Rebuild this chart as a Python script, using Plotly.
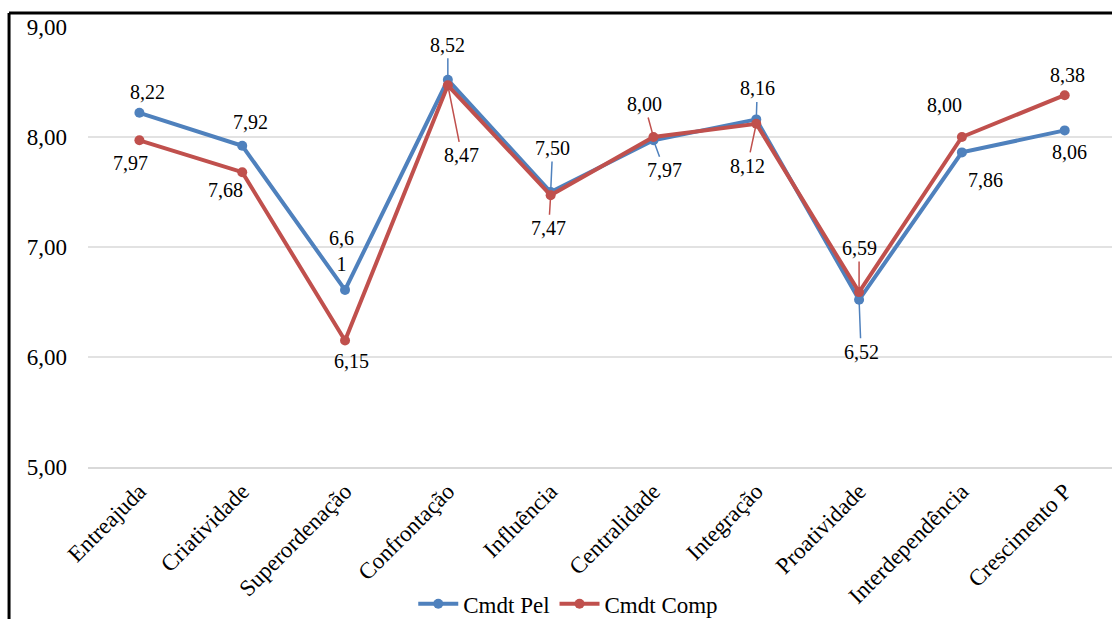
import plotly.graph_objects as go

# Dimensões avaliadas
categorias = ["Entreajuda", "Criatividade", "Superordenação", "Confrontação",
              "Influência", "Centralidade", "Integração", "Proatividade",
              "Interdependência", "Crescimento P"]

# Médias por grupo
cmdt_pel = [8.22, 7.92, 6.61, 8.52, 7.50, 7.97, 8.16, 6.52, 7.86, 8.06]
cmdt_comp = [7.97, 7.68, 6.15, 8.47, 7.47, 8.00, 8.12, 6.59, 8.00, 8.38]

# Eixo Y
y_ticks = [5, 6, 7, 8, 9]
y_tick_labels = ["5,00", "6,00", "7,00", "8,00", "9,00"]

AZUL = "#4F81BD"
VERMELHO = "#C0504D"
FONTE = "Liberation Serif"

# Deslocamento (px) dos rótulos de dados e se levam linha de chamada
rot_pel = [(8, -21, False), (8, -24, False), (-4, -39, False), (0, -35, True),
           (2, -44, True), (11, 30, True), (1, -31, True), (2, 52, True),
           (24, 28, False), (5, 22, False)]
rot_comp = [(-9, 23, False), (-17, 18, False), (6, 20, False), (14, 70, True),
            (-2, 33, True), (-9, -33, True), (-9, 42, True), (0, -44, True),
            (-17, -32, False), (3, -20, False)]


def fmt(v):
    return f"{v:.2f}".replace(".", ",")


fig = go.Figure()
for nome, valores, cor in [("Cmdt Pel", cmdt_pel, AZUL), ("Cmdt Comp", cmdt_comp, VERMELHO)]:
    fig.add_trace(go.Scatter(
        x=list(range(len(categorias))), y=valores, name=nome,
        mode="lines+markers",
        line=dict(color=cor, width=4),
        marker=dict(color=cor, size=10, symbol="circle"),
        hoverinfo="skip",
    ))

anots = []
for valores, desloc, cor in [(cmdt_pel, rot_pel, AZUL), (cmdt_comp, rot_comp, VERMELHO)]:
    for i, (v, (dx, dy, linha)) in enumerate(zip(valores, desloc)):
        texto = fmt(v)
        if texto == "6,61":
            texto = "6,6<br>1"
        base = dict(x=i, y=v, xref="x", yref="y", text=texto,
                    font=dict(family=FONTE, size=20, color="black"))
        if linha:
            base.update(showarrow=True, ax=dx, ay=dy, arrowhead=0,
                        arrowwidth=1.5, arrowcolor=cor, standoff=3,
                        startstandoff=1)
        else:
            base.update(showarrow=False, xshift=dx, yshift=-dy)
        anots.append(base)

# Linhas de grade horizontais (sem a de 9,00)
formas = [dict(type="line", xref="paper", yref="y", x0=0, x1=1, y0=g, y1=g,
               line=dict(color="#D9D9D9", width=1.5), layer="below")
          for g in y_ticks[1:-1]]
# Moldura (esquerda e topo)
formas.append(dict(type="line", xref="paper", yref="paper",
                   x0=-0.0771, x1=1.1, y0=1.0318, y1=1.0318,
                   line=dict(color="black", width=3)))
formas.append(dict(type="line", xref="paper", yref="paper",
                   x0=-0.0771, x1=-0.0771, y0=1.0318, y1=-0.45,
                   line=dict(color="black", width=3)))

fig.update_layout(
    width=1112, height=619,
    margin=dict(l=88, r=0, t=27, b=152, autoexpand=False),
    paper_bgcolor="white", plot_bgcolor="white",
    font=dict(family=FONTE, size=23, color="black"),
    showlegend=True,
    legend=dict(orientation="h", x=0.469, xanchor="center", y=-0.311,
                yanchor="middle", font=dict(family=FONTE, size=23, color="black"),
                itemwidth=40, traceorder="normal"),
    annotations=anots,
    shapes=formas,
    xaxis=dict(
        range=[-0.5, 9.46], automargin=False,
        tickmode="array", tickvals=list(range(len(categorias))),
        ticktext=categorias, tickangle=-45,
        showgrid=False, zeroline=False,
        showline=True, linecolor="#D9D9D9", linewidth=1.5,
        ticks="", tickfont=dict(family=FONTE, size=23, color="black"),
        fixedrange=True,
    ),
    yaxis=dict(
        range=[5, 9], automargin=False,
        tickmode="array", tickvals=y_ticks, ticktext=y_tick_labels,
        showgrid=False, zeroline=False, showline=False,
        ticks="", ticklabelstandoff=20,
        tickfont=dict(family=FONTE, size=23, color="black"),
        fixedrange=True,
    ),
)

fig.write_html("out.html")
